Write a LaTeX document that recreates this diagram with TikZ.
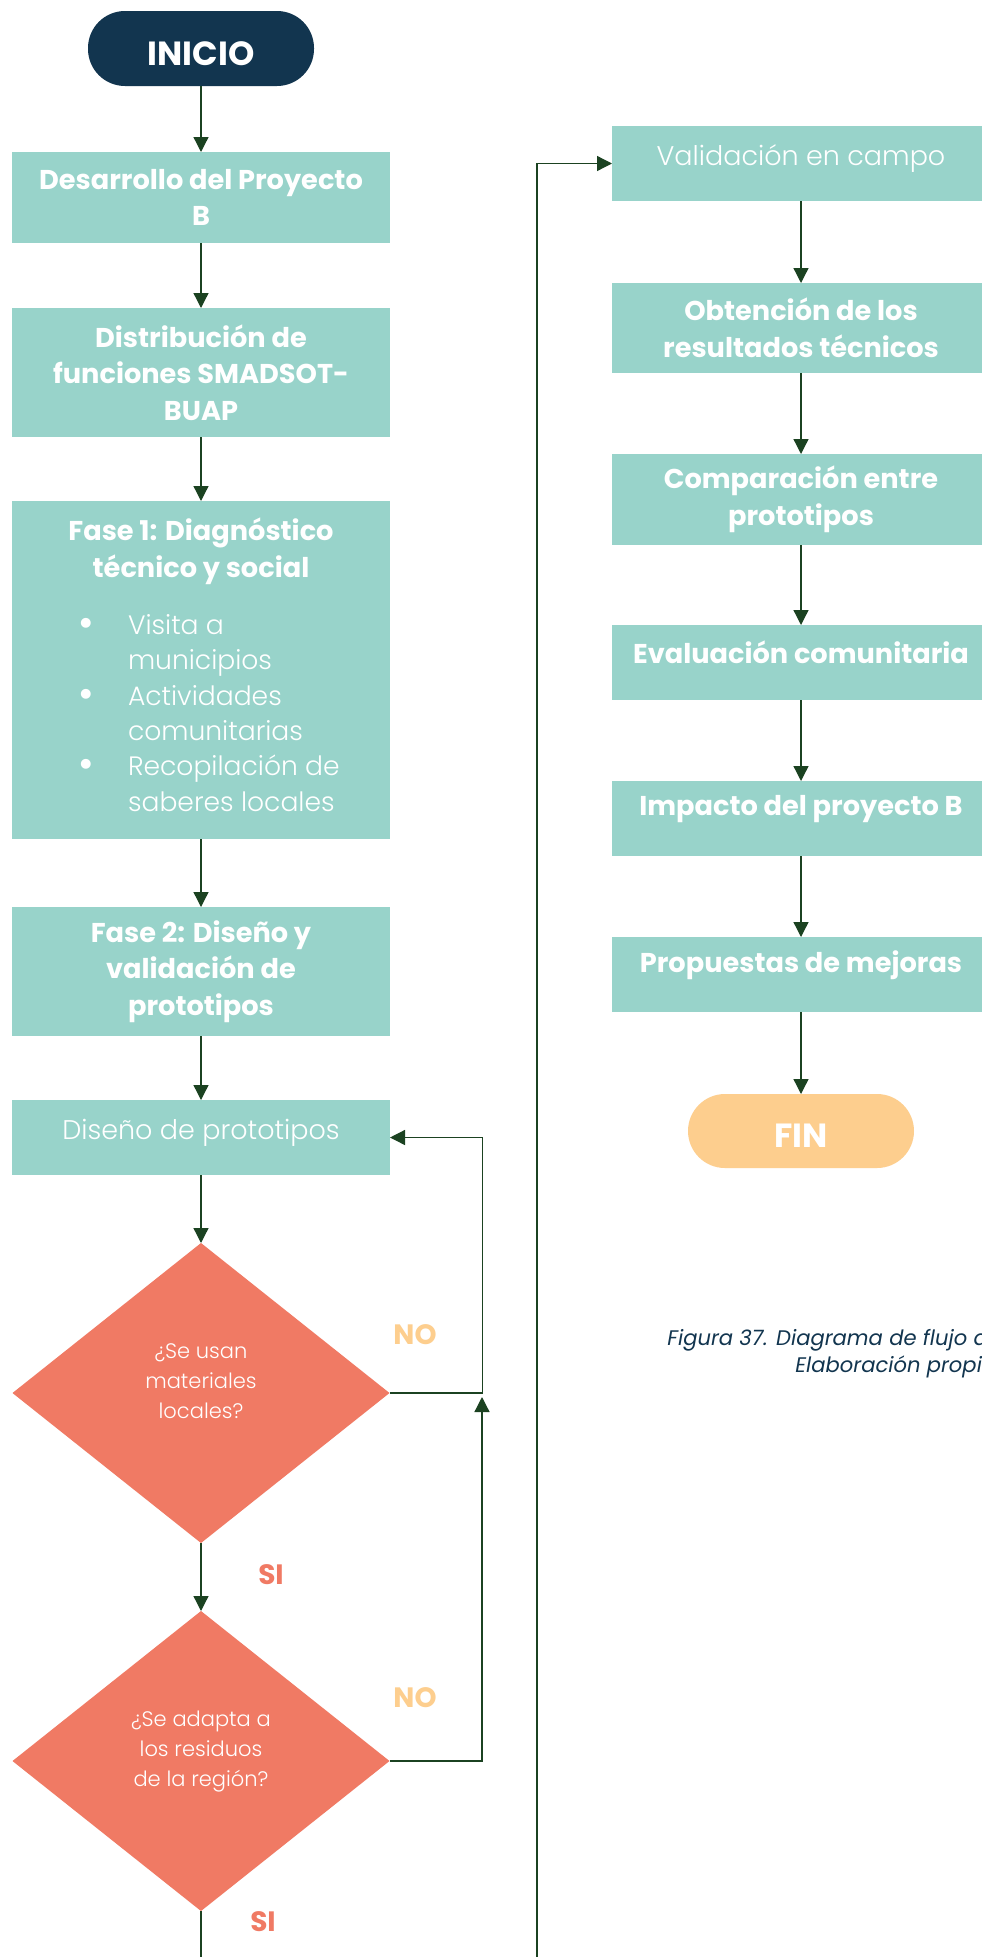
\documentclass[tikz,border=0pt]{standalone}
\usepackage{fontspec}
\setmainfont{Poppins}
\newfontfamily\lightfont{Poppins Light}
\usepackage{xcolor}
\usetikzlibrary{arrows.meta,shapes.geometric,positioning}
\definecolor{flow-navy}{HTML}{12354F}
\definecolor{flow-teal}{HTML}{98D3CA}
\definecolor{flow-salmon}{HTML}{F07A64}
\definecolor{flow-peach}{HTML}{FDCE8E}
\definecolor{flow-line}{HTML}{1B4221}
\newcommand{\lifted}[2]{\raisebox{#1}[\height][\depth]{#2}}
\newcommand{\flowdot}{\makebox[84pt]{\raisebox{-3pt}{\scalebox{1.6}{\textbullet}}}}
\tikzset{
    flow-box/.style={
        rectangle,
        fill=flow-teal,
        text=white,
        font=\bfseries\fontsize{27.2}{36.5}\selectfont,
        align=center,
        minimum width=378pt,
        inner sep=0pt,
        outer sep=0pt
    },
    flow-thin/.style={
        flow-box,
        font=\lightfont\mdseries\fontsize{27}{36.5}\selectfont,
        minimum height=75pt
    },
    flow-term/.style={
        rectangle,
        rounded corners=37pt,
        text=white,
        font=\bfseries\fontsize{33.5}{36}\selectfont,
        minimum width=226pt,
        minimum height=75pt,
        inner sep=0pt,
        outer sep=0pt
    },
    flow-test/.style={
        diamond,
        fill=flow-salmon,
        text=white,
        font=\lightfont\mdseries\fontsize{21}{30}\selectfont,
        minimum width=377pt,
        minimum height=300pt,
        inner sep=0pt,
        outer sep=0pt
    },
    flow-yes/.style={
        text=flow-salmon,
        font=\bfseries\fontsize{28}{30}\selectfont
    },
    flow-no/.style={
        text=flow-peach,
        font=\bfseries\fontsize{28}{30}\selectfont
    },
    flow-link/.style={
        draw=flow-line,
        ->,>={Triangle[length=15pt,width=15pt]},
        line width=1.3pt
    },
    every edge/.style={
        flow-link
    },
}

\begin{document}
\begin{tikzpicture}[x=1pt,y=-1pt]
    \useasboundingbox (0,0) rectangle (982,1957);
    \fill [white] (0,0) rectangle (982,1957);
    \clip (0,0) rectangle (982,1957);
    % left column
    \node [flow-term,fill=flow-navy] (inicio) at (201,48.5) {\lifted{-5pt}{INICIO}};
    \node [flow-box,below=66pt of inicio,minimum height=91pt] (proy) {Desarrollo del Proyecto\\B};
    \node [flow-box,below=65pt of proy,minimum height=129pt] (dist) {Distribución de\\funciones SMADSOT-\\BUAP};
    \node [flow-box,below=64pt of dist,minimum height=338pt] (fase1) {Fase 1: Diagnóstico\\técnico y social\\[24pt]
        {\lightfont\mdseries\fontsize{26.6}{35.4}\selectfont
        \begin{tabular}{@{}l@{}p{230pt}@{}}
            \flowdot & Visita a\\
                     & municipios\\
            \flowdot & Actividades\\
                     & comunitarias\\
            \flowdot & Recopilación de\\
                     & saberes locales
        \end{tabular}}};
    \node [flow-box,below=68pt of fase1,minimum height=129pt] (fase2) {Fase 2: Diseño y\\validación de\\prototipos};
    \node [flow-thin,below=64pt of fase2] (disenio) {\lifted{5pt}{Diseño de prototipos}};
    \node [flow-test,below=68pt of disenio] (q1) {\lifted{11pt}{\begin{tabular}{@{}c@{}}¿Se usan\\materiales\\locales?\end{tabular}}};
    \node [flow-test,below=68pt of q1] (q2) {\lifted{11pt}{\begin{tabular}{@{}c@{}}¿Se adapta a\\los residuos\\de la región?\end{tabular}}};
    \node [flow-no] (no1) at (415,1335) {NO};
    \node [flow-yes] (si1) at (271,1575) {SI};
    \node [flow-no] (no2) at (415,1698) {NO};
    \node [flow-yes] (si2) at (263,1922) {SI};
    % right column
    \node [flow-thin] (valid) at (801,163.5) {\lifted{5pt}{Validación en campo}};
    \node [flow-box,below=82pt of valid,minimum height=90pt] (obt) {Obtención de los\\resultados técnicos};
    \node [flow-box,below=81pt of obt,minimum height=91pt] (comp) {Comparación entre\\prototipos};
    \node [flow-box,below=80pt of comp,minimum height=75pt] (eval) {\lifted{10pt}{Evaluación comunitaria}};
    \node [flow-box,below=81pt of eval,minimum height=75pt] (imp) {\lifted{9pt}{Impacto del proyecto B}};
    \node [flow-box,below=81pt of imp,minimum height=75pt] (prop) {\lifted{9pt}{Propuestas de mejoras}};
    \node [flow-term,fill=flow-peach,below=82pt of prop,minimum height=74pt] (fin) {\lifted{-5pt}{FIN}};
    \node [text=flow-navy,font=\itshape\fontsize{21.1}{27}\selectfont,align=center] (cap) at (898,1354) {Figura 37. Diagrama de flujo del Proyecto B.\\Elaboración propia.};
    % connectors
    \draw (inicio) edge (proy);
    \draw (proy) edge (dist);
    \draw (dist) edge (fase1);
    \draw (fase1) edge (fase2);
    \draw (fase2) edge (disenio);
    \draw (disenio) edge (q1);
    \draw (q1) edge (q2);
    \draw (valid) edge (obt);
    \draw (obt) edge (comp);
    \draw (comp) edge (eval);
    \draw (eval) edge (imp);
    \draw (imp) edge (prop);
    \draw (prop) edge (fin);
    \coordinate (back) at (482,1397);
    \coordinate (under) at (537,2010);
    \draw [flow-link] (q1.east) -- ++(93,0) |- (disenio.east);
    \draw [flow-link] (q2.east) -| (back);
    \draw [flow-link] (q2.south) |- (under) |- (valid.west);
\end{tikzpicture}
\end{document}
